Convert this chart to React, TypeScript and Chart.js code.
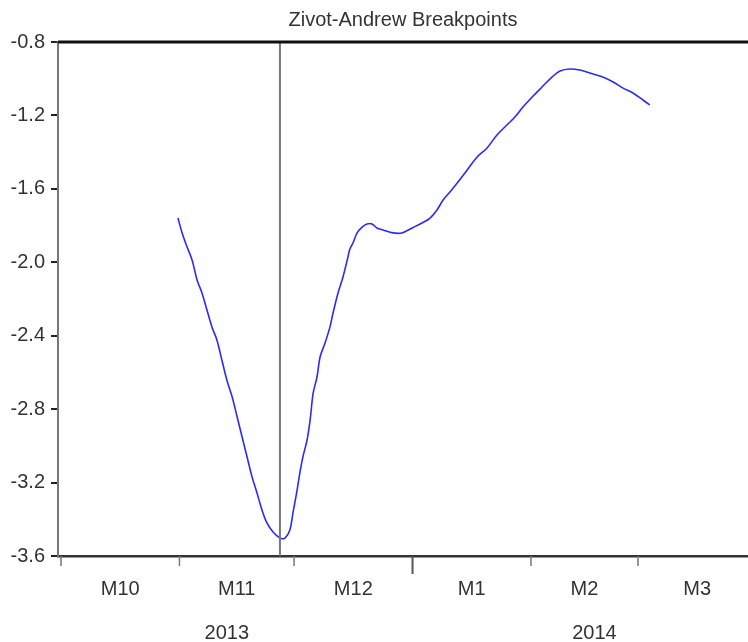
import React, { useEffect, useRef } from "react";
import { Chart, registerables } from "chart.js";

Chart.register(...registerables);

const TITLE = "Zivot-Andrew Breakpoints";
// x = days elapsed since 2013-10-01
const xDays = [
  30.6, 31.7, 33.0, 34.3, 35.6, 36.9, 38.2, 39.5, 40.8, 42.1, 43.4, 44.8, 46.1, 47.4, 48.7, 50.0,
  51.3, 52.6, 53.9, 55.5, 57.3, 58.6, 59.9, 60.7, 61.8, 62.5, 63.3, 64.4, 65.2, 66.0, 67.0, 67.8,
  69.1, 70.4, 71.2, 72.5, 73.8, 75.1, 75.6, 76.4, 77.5, 78.8, 80.1, 81.4, 82.7, 84.3, 86.9, 89.2,
  91.9, 94.5, 96.6, 98.4, 100.0, 101.8, 103.9, 106.3, 108.9, 111.5, 114.1, 116.7, 118.8, 120.9,
  123.3, 125.9, 128.5, 130.6, 133.2, 135.8, 138.4, 141.8, 144.5, 147.1, 149.7, 152.3, 154.1,
];
const zaStat = [
  -1.759, -1.84, -1.917, -1.987, -2.096, -2.167, -2.26, -2.352, -2.423, -2.532, -2.641, -2.734,
  -2.843, -2.952, -3.061, -3.169, -3.257, -3.349, -3.42, -3.469, -3.502, -3.502, -3.458, -3.366,
  -3.24, -3.148, -3.061, -2.968, -2.859, -2.712, -2.625, -2.516, -2.44, -2.352, -2.276, -2.167,
  -2.08, -1.971, -1.928, -1.895, -1.84, -1.808, -1.791, -1.791, -1.813, -1.824, -1.84, -1.84,
  -1.813, -1.786, -1.759, -1.715, -1.661, -1.617, -1.563, -1.497, -1.426, -1.377, -1.307, -1.252,
  -1.209, -1.154, -1.1, -1.045, -0.991, -0.958, -0.947, -0.953, -0.969, -0.991, -1.018, -1.051,
  -1.078, -1.116, -1.143,
];
const breakDay = 57.3;
// month starts (days since 2013-10-01): Oct, Nov, Dec, Jan, Feb, Mar, Apr
const monthStarts = [0, 31, 61, 92, 123, 151, 182];
const monthLabels = ["M10", "M11", "M12", "M1", "M2", "M3"];
const yearLabels = ["2013", "2014"];
const yearMonthSpans = [
  [0, 3],
  [3, 6],
];
const yTicks = [-3.6, -3.2, -2.8, -2.4, -2.0, -1.6, -1.2, -0.8];

const FONT = "'Liberation Sans', Arial, sans-serif";

export default function App() {
  const ref = useRef<HTMLCanvasElement | null>(null);
  useEffect(() => {
    if (!ref.current) return;
    const decor = {
      id: "decor",
      afterDraw(chart: any) {
        const { ctx, chartArea, scales } = chart;
        const xs = scales.x;
        ctx.save();
        // break line
        const bx = xs.getPixelForValue(breakDay);
        ctx.strokeStyle = "#777777";
        ctx.lineWidth = 2;
        ctx.beginPath();
        ctx.moveTo(bx, chartArea.top);
        ctx.lineTo(bx, chartArea.bottom);
        ctx.stroke();
        // top border
        ctx.strokeStyle = "#111111";
        ctx.lineWidth = 3;
        ctx.beginPath();
        ctx.moveTo(chartArea.left, chartArea.top);
        ctx.lineTo(chartArea.right, chartArea.top);
        ctx.stroke();
        // x ticks
        for (let i = 0; i < monthLabels.length; i++) {
          const px = xs.getPixelForValue(monthStarts[i]);
          const isYear = i === 3;
          ctx.strokeStyle = isYear ? "#555555" : "#777777";
          ctx.lineWidth = isYear ? 2 : 1.5;
          ctx.beginPath();
          ctx.moveTo(px, chartArea.bottom);
          ctx.lineTo(px, chartArea.bottom + (isYear ? 18 : 10));
          ctx.stroke();
        }
        // month labels
        ctx.fillStyle = "#333333";
        ctx.font = `20px ${FONT}`;
        ctx.textAlign = "center";
        ctx.textBaseline = "middle";
        monthLabels.forEach((lab, i) => {
          const px = (xs.getPixelForValue(monthStarts[i]) + xs.getPixelForValue(monthStarts[i + 1])) / 2;
          ctx.fillText(lab, px, chartArea.bottom + 33);
        });
        yearLabels.forEach((lab, i) => {
          const a = xs.getPixelForValue(monthStarts[yearMonthSpans[i][0]]);
          const b = xs.getPixelForValue(monthStarts[yearMonthSpans[i][1]]);
          const px = (a + b) / 2 + (i === 0 ? -10 : 10);
          ctx.fillText(lab, px, chartArea.bottom + 77);
        });
        ctx.restore();
      },
    };
    const chart = new Chart(ref.current, {
      type: "line",
      data: {
        datasets: [
          {
            data: xDays.map((x, i) => ({ x, y: zaStat[i] })),
            borderColor: "#2a2aff",
            borderWidth: 1.6,
            pointRadius: 0,
            tension: 0.35,
            fill: false,
          },
        ],
      },
      options: {
        animation: false,
        responsive: false,
        events: [],
        layout: { padding: { left: 0, right: 0, top: 0, bottom: 0 } },
        plugins: {
          legend: { display: false },
          tooltip: { enabled: false },
          title: {
            display: true,
            text: TITLE,
            fullSize: false,
            color: "#333333",
            font: { family: FONT, size: 20, weight: "normal", lineHeight: 1.2 },
            padding: { top: 8, bottom: 10 },
          },
        },
        scales: {
          x: {
            type: "linear",
            min: -0.785,
            max: 179.8,
            afterFit(scale: any) {
              scale.height = 86;
            },
            ticks: { display: false },
            grid: { display: false },
            border: { display: true, color: "#333333", width: 2.5 },
          },
          y: {
            type: "linear",
            min: -3.6,
            max: -0.8,
            afterFit(scale: any) {
              scale.width = 58;
            },
            afterBuildTicks(scale: any) {
              scale.ticks = yTicks.map((v) => ({ value: v }));
            },
            ticks: {
              color: "#333333",
              font: { family: FONT, size: 20 },
              padding: 6,
              callback: (v: any) => Number(v).toFixed(1),
            },
            grid: {
              drawOnChartArea: false,
              drawTicks: true,
              tickLength: 7,
              color: "#222222",
              lineWidth: 2,
            },
            border: { display: true, color: "#777777", width: 2 },
          },
        },
      },
      plugins: [decor],
    });
    return () => chart.destroy();
  }, []);
  return (
    <div style={{ position: "fixed", left: 0, top: 0, width: 748, height: 642, background: "#fff" }}>
      <canvas ref={ref} width={748} height={642} style={{ display: "block" }} />
    </div>
  );
}
